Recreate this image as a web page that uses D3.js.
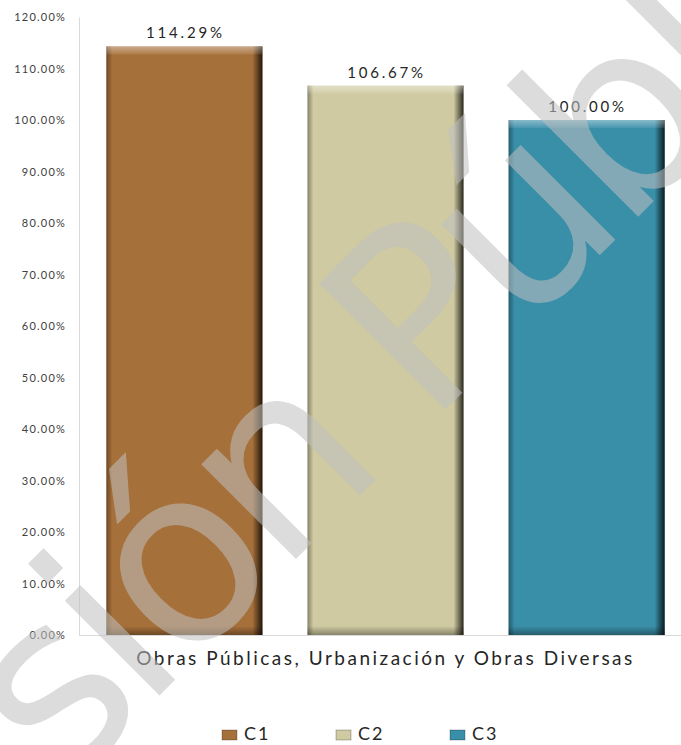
<!DOCTYPE html>
<html>
<head>
<meta charset="utf-8">
<script src="https://cdn.jsdelivr.net/npm/d3@7"></script>
<style>
  body { margin: 0; background: #fff; }
  svg { display: block; }
</style>
</head>
<body>
<svg></svg>
<script>
let categories = ['Obras Públicas, Urbanización y Obras Diversas']
let seriesNames = ['C1', 'C2', 'C3']
let seriesValues = [1.1429, 1.0667, 1.0]
let seriesColors = ['#a6703a', '#cfcaa2', '#398ea8']
let yTicks = [0, 0.1, 0.2, 0.3, 0.4, 0.5, 0.6, 0.7, 0.8, 0.9, 1.0, 1.1, 1.2]

let w = 681
let h = 745
let plot = { left: 79, right: 692, top: 17, bottom: 635 }
let font = 'Lato, "Open Sans", sans-serif'

let svg = d3.select('svg').attr('width', w).attr('height', h)

let yScale = d3.scaleLinear().domain([0, 1.2]).range([plot.bottom, plot.top])
let xScale = d3.scaleBand().domain(categories).range([plot.left, plot.right]).paddingOuter(0.008)
let xSeries = d3.scaleBand().domain(seriesNames).range([0, xScale.bandwidth()])
    .paddingInner(0.224).paddingOuter(0.112)

// gradients for the bevel look
let defs = svg.append('defs')
let addGrad = (id, x2, y2, stops) => {
    let g = defs.append('linearGradient').attr('id', id)
        .attr('x1', 0).attr('y1', 0).attr('x2', x2).attr('y2', y2)
    stops.forEach(s => g.append('stop').attr('offset', s[0]).attr('stop-color', s[1]).attr('stop-opacity', s[2]))
}
addGrad('gLeft', 1, 0, [[0, '#000', 0.35], [1, '#000', 0]])
addGrad('gRight', 1, 0, [[0, '#000', 0], [1, '#000', 0.8]])
addGrad('gTop', 0, 1, [[0, '#fff', 0.4], [1, '#fff', 0.08]])
addGrad('gBottom', 0, 1, [[0, '#000', 0], [1, '#000', 0.35]])

// axes
let yAxis = d3.axisLeft(yScale).tickValues(yTicks).tickSize(0).tickPadding(13)
    .tickFormat(d => (d * 100).toFixed(2) + '%')
let gy = svg.append('g').attr('transform', 'translate(' + plot.left + ',0)').call(yAxis)
gy.select('.domain').attr('stroke', '#d9d9d9')
gy.selectAll('text').attr('fill', '#404040').style('font-family', font)
    .style('font-size', '11px').style('letter-spacing', '1.2px')

let xAxis = d3.axisBottom(xScale).tickSize(0).tickPadding(17)
let gx = svg.append('g').attr('transform', 'translate(0,' + plot.bottom + ')').call(xAxis)
gx.select('.domain').attr('stroke', '#d9d9d9')
gx.selectAll('text').attr('fill', '#262626').style('font-family', font)
    .style('font-size', '19px').style('letter-spacing', '2.5px')

// bars
let bars = svg.append('g').selectAll('g')
    .data(seriesNames.map((s, i) => ({ name: s, value: seriesValues[i], color: seriesColors[i] })))
    .enter().append('g')
    .attr('transform', d => 'translate(' + (xScale(categories[0]) + xSeries(d.name)) + ',0)')

let bw = xSeries.bandwidth()
bars.append('rect').attr('x', 0).attr('width', bw)
    .attr('y', d => yScale(d.value)).attr('height', d => yScale(0) - yScale(d.value))
    .attr('fill', d => d.color)
bars.append('rect').attr('x', 0).attr('width', 6)
    .attr('y', d => yScale(d.value)).attr('height', d => yScale(0) - yScale(d.value))
    .attr('fill', 'url(#gLeft)')
bars.append('rect').attr('x', bw - 10).attr('width', 10)
    .attr('y', d => yScale(d.value)).attr('height', d => yScale(0) - yScale(d.value))
    .attr('fill', 'url(#gRight)')
bars.append('rect').attr('x', 0).attr('width', bw)
    .attr('y', d => yScale(d.value)).attr('height', 8)
    .attr('fill', 'url(#gTop)')
bars.append('rect').attr('x', 0).attr('width', bw)
    .attr('y', yScale(0) - 9).attr('height', 9)
    .attr('fill', 'url(#gBottom)')

bars.append('text')
    .attr('x', bw / 2 + 1).attr('y', d => yScale(d.value) - 8)
    .attr('text-anchor', 'middle')
    .attr('fill', '#262626')
    .style('font-family', font).style('font-size', '15px').style('letter-spacing', '2.8px')
    .text(d => (d.value * 100).toFixed(2) + '%')

// legend
let legend = svg.append('g').selectAll('g').data(seriesNames).enter().append('g')
    .attr('transform', (d, i) => 'translate(' + (222 + i * 114) + ',730)')
legend.append('rect').attr('width', 15).attr('height', 10)
    .attr('fill', (d, i) => seriesColors[i])
legend.append('rect').attr('width', 15).attr('height', 10)
    .attr('fill', 'none').attr('stroke', 'rgba(0,0,0,0.25)').attr('stroke-width', 1)
legend.append('text').attr('x', 22).attr('y', 10)
    .attr('fill', '#262626')
    .style('font-family', font).style('font-size', '18px').style('letter-spacing', '2px')
    .text(d => d)

// watermark
svg.append('text')
    .attr('transform', 'translate(-196,1051) rotate(-45)')
    .attr('fill', '#bfbfbf').attr('fill-opacity', 0.55)
    .style('font-family', '"DejaVu Sans", sans-serif').style('font-size', '245px')
    .style('letter-spacing', '-12px')
    .text('Versión Pública')
</script>
</body>
</html>
